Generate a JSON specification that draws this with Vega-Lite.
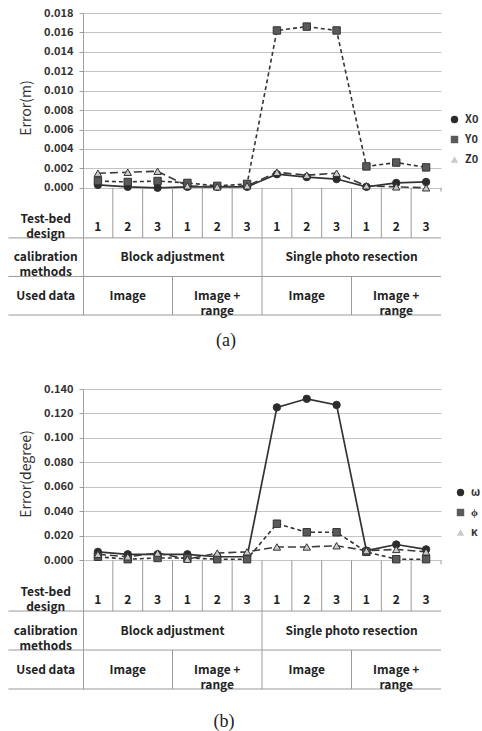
{
  "$schema": "https://vega.github.io/schema/vega-lite/v6.json",
  "padding": {"top": 7, "left": 7, "right": 45, "bottom": 0},
  "background": "white",
  "spacing": 33,
  "config": {"view": {"stroke": null}, "font": "Noto Sans CJK KR"},
  "resolve": {"scale": {"shape": "independent", "fill": "independent", "y": "independent"}},
  "datasets": {
    "a": [
      {"series": "X0", "pos": 1, "value": 0.0003}, {"series": "X0", "pos": 2, "value": 0.0001}, {"series": "X0", "pos": 3, "value": 0.0000},
      {"series": "X0", "pos": 4, "value": 0.0001}, {"series": "X0", "pos": 5, "value": 0.0001}, {"series": "X0", "pos": 6, "value": 0.0001},
      {"series": "X0", "pos": 7, "value": 0.0014}, {"series": "X0", "pos": 8, "value": 0.0011}, {"series": "X0", "pos": 9, "value": 0.0009},
      {"series": "X0", "pos": 10, "value": 0.0001}, {"series": "X0", "pos": 11, "value": 0.0005}, {"series": "X0", "pos": 12, "value": 0.0006},
      {"series": "Y0", "pos": 1, "value": 0.0007}, {"series": "Y0", "pos": 2, "value": 0.0006}, {"series": "Y0", "pos": 3, "value": 0.0007},
      {"series": "Y0", "pos": 4, "value": 0.0005}, {"series": "Y0", "pos": 5, "value": 0.0002}, {"series": "Y0", "pos": 6, "value": 0.0004},
      {"series": "Y0", "pos": 7, "value": 0.0162}, {"series": "Y0", "pos": 8, "value": 0.0166}, {"series": "Y0", "pos": 9, "value": 0.0162},
      {"series": "Y0", "pos": 10, "value": 0.0022}, {"series": "Y0", "pos": 11, "value": 0.0026}, {"series": "Y0", "pos": 12, "value": 0.0021},
      {"series": "Z0", "pos": 1, "value": 0.0015}, {"series": "Z0", "pos": 2, "value": 0.0016}, {"series": "Z0", "pos": 3, "value": 0.0017},
      {"series": "Z0", "pos": 4, "value": 0.0002}, {"series": "Z0", "pos": 5, "value": 0.0001}, {"series": "Z0", "pos": 6, "value": 0.0002},
      {"series": "Z0", "pos": 7, "value": 0.0016}, {"series": "Z0", "pos": 8, "value": 0.0013}, {"series": "Z0", "pos": 9, "value": 0.0015},
      {"series": "Z0", "pos": 10, "value": 0.0002}, {"series": "Z0", "pos": 11, "value": 0.0001}, {"series": "Z0", "pos": 12, "value": 0.0000}
    ],
    "b": [
      {"series": "ω", "pos": 1, "value": 0.007}, {"series": "ω", "pos": 2, "value": 0.005}, {"series": "ω", "pos": 3, "value": 0.005},
      {"series": "ω", "pos": 4, "value": 0.005}, {"series": "ω", "pos": 5, "value": 0.003}, {"series": "ω", "pos": 6, "value": 0.003},
      {"series": "ω", "pos": 7, "value": 0.125}, {"series": "ω", "pos": 8, "value": 0.132}, {"series": "ω", "pos": 9, "value": 0.127},
      {"series": "ω", "pos": 10, "value": 0.008}, {"series": "ω", "pos": 11, "value": 0.013}, {"series": "ω", "pos": 12, "value": 0.009},
      {"series": "ϕ", "pos": 1, "value": 0.003}, {"series": "ϕ", "pos": 2, "value": 0.001}, {"series": "ϕ", "pos": 3, "value": 0.002},
      {"series": "ϕ", "pos": 4, "value": 0.002}, {"series": "ϕ", "pos": 5, "value": 0.001}, {"series": "ϕ", "pos": 6, "value": 0.001},
      {"series": "ϕ", "pos": 7, "value": 0.030}, {"series": "ϕ", "pos": 8, "value": 0.023}, {"series": "ϕ", "pos": 9, "value": 0.023},
      {"series": "ϕ", "pos": 10, "value": 0.007}, {"series": "ϕ", "pos": 11, "value": 0.001}, {"series": "ϕ", "pos": 12, "value": 0.001},
      {"series": "κ", "pos": 1, "value": 0.005}, {"series": "κ", "pos": 2, "value": 0.003}, {"series": "κ", "pos": 3, "value": 0.006},
      {"series": "κ", "pos": 4, "value": 0.001}, {"series": "κ", "pos": 5, "value": 0.006}, {"series": "κ", "pos": 6, "value": 0.007},
      {"series": "κ", "pos": 7, "value": 0.011}, {"series": "κ", "pos": 8, "value": 0.011}, {"series": "κ", "pos": 9, "value": 0.012},
      {"series": "κ", "pos": 10, "value": 0.008}, {"series": "κ", "pos": 11, "value": 0.009}, {"series": "κ", "pos": 12, "value": 0.007}
    ],
    "rules": [
      {"x1": -2, "x2": 12.5, "y1": -1.3, "y2": -1.3},
      {"x1": -2, "x2": 12.5, "y1": -2.3, "y2": -2.3},
      {"x1": -2, "x2": 12.5, "y1": -3.3, "y2": -3.3},
      {"x1": 1.5, "x2": 1.5, "y1": 0, "y2": -1.3},
      {"x1": 2.5, "x2": 2.5, "y1": 0, "y2": -1.3},
      {"x1": 3.5, "x2": 3.5, "y1": 0, "y2": -1.3},
      {"x1": 3.5, "x2": 3.5, "y1": -2.3, "y2": -3.3},
      {"x1": 4.5, "x2": 4.5, "y1": 0, "y2": -1.3},
      {"x1": 5.5, "x2": 5.5, "y1": 0, "y2": -1.3},
      {"x1": 6.5, "x2": 6.5, "y1": 0, "y2": -3.3},
      {"x1": 7.5, "x2": 7.5, "y1": 0, "y2": -1.3},
      {"x1": 8.5, "x2": 8.5, "y1": 0, "y2": -1.3},
      {"x1": 9.5, "x2": 9.5, "y1": 0, "y2": -1.3},
      {"x1": 9.5, "x2": 9.5, "y1": -2.3, "y2": -3.3},
      {"x1": 10.5, "x2": 10.5, "y1": 0, "y2": -1.3},
      {"x1": 11.5, "x2": 11.5, "y1": 0, "y2": -1.3},
      {"x1": 12.5, "x2": 12.5, "y1": 0, "y2": -0.1}
    ],
    "cells": [
      {"label": "Test-bed\ndesign", "cx": -0.75, "cy": -0.82},
      {"label": "calibration\nmethods", "cx": -0.75, "cy": -1.8},
      {"label": "Used data", "cx": -0.75, "cy": -2.8},
      {"label": "1", "cx": 1, "cy": -1.01}, {"label": "2", "cx": 2, "cy": -1.01}, {"label": "3", "cx": 3, "cy": -1.01},
      {"label": "1", "cx": 4, "cy": -1.01}, {"label": "2", "cx": 5, "cy": -1.01}, {"label": "3", "cx": 6, "cy": -1.01},
      {"label": "1", "cx": 7, "cy": -1.01}, {"label": "2", "cx": 8, "cy": -1.01}, {"label": "3", "cx": 9, "cy": -1.01},
      {"label": "1", "cx": 10, "cy": -1.01}, {"label": "2", "cx": 11, "cy": -1.01}, {"label": "3", "cx": 12, "cy": -1.01},
      {"label": "Block adjustment", "cx": 3.5, "cy": -1.8},
      {"label": "Single photo resection", "cx": 9.5, "cy": -1.8},
      {"label": "Image", "cx": 2, "cy": -2.8},
      {"label": "Image +\nrange", "cx": 5, "cy": -2.8},
      {"label": "Image", "cx": 8, "cy": -2.8},
      {"label": "Image +\nrange", "cx": 11, "cy": -2.8}
    ]
  },
  "vconcat": [
    {
      "width": 358,
      "height": 302,
      "title": {"text": "(a)", "orient": "bottom", "font": "Liberation Serif", "fontSize": 18, "fontWeight": "normal", "color": "#222", "offset": 15, "frame": "group", "dx": -36},
      "resolve": {"scale": {"y": "independent"}},
      "layer": [
        {
          "data": {"name": "a"},
          "encoding": {
            "x": {"field": "pos", "type": "quantitative", "scale": {"domain": [0.5, 12.5], "nice": false, "zero": false}, "axis": null},
            "y": {"field": "value", "type": "quantitative", "scale": {"domain": [-0.0131, 0.018], "nice": false, "zero": false},
              "axis": {"values": [0, 0.002, 0.004, 0.006, 0.008, 0.01, 0.012, 0.014, 0.016, 0.018], "tickCount": 30, "format": ".3f", "labelOverlap": false, "labelBound": false, "grid": true, "gridColor": "#c4c4c4", "gridWidth": 1, "domainColor": "#a0a0a0", "tickColor": "#a0a0a0", "tickSize": 4, "labelFont": "Noto Sans CJK KR", "labelFontSize": 11, "labelFontWeight": "bold", "labelColor": "#333", "labelPadding": 6, "title": "Error(m)", "titleFont": "Noto Sans CJK KR", "titleFontSize": 14, "titleFontWeight": "normal", "titleColor": "#333", "titleY": 94.5, "titlePadding": 10}}
          },
          "layer": [
            {"transform": [{"filter": "datum.series === 'X0'"}], "mark": {"type": "line", "stroke": "#333", "strokeWidth": 1.7}},
            {"transform": [{"filter": "datum.series === 'Y0'"}], "mark": {"type": "line", "stroke": "#333", "strokeWidth": 1.6, "strokeDash": [4, 3]}},
            {"transform": [{"filter": "datum.series === 'Z0'"}], "mark": {"type": "line", "stroke": "#3a3a3a", "strokeWidth": 1.6, "strokeDash": [8, 4]}},
            {
              "mark": {"type": "point", "filled": true, "size": 55, "stroke": "#333", "strokeWidth": 1, "opacity": 1},
              "encoding": {
                "shape": {"field": "series", "type": "nominal", "scale": {"domain": ["X0", "Y0", "Z0"], "range": ["circle", "square", "triangle-up"]},
                  "legend": {"title": null, "orient": "none", "legendX": 366, "legendY": 101, "labelFont": "Noto Sans CJK KR", "labelFontSize": 11, "labelFontWeight": "bold", "labelColor": "#333", "symbolSize": 55, "symbolStrokeColor": "#333", "symbolStrokeWidth": 1, "rowPadding": 7, "labelOffset": 5}},
                "fill": {"field": "series", "type": "nominal", "scale": {"domain": ["X0", "Y0", "Z0"], "range": ["#2b2b2b", "#5a5a5a", "#cacaca"]},
                  "legend": {"title": null, "orient": "none", "legendX": 366, "legendY": 101, "labelFont": "Noto Sans CJK KR", "labelFontSize": 11, "labelFontWeight": "bold", "labelColor": "#333", "symbolSize": 55, "symbolStrokeColor": "#333", "symbolStrokeWidth": 1, "rowPadding": 7, "labelOffset": 5}}
              }
            }
          ]
        },
        {
          "layer": [
            {
              "data": {"name": "rules"},
              "mark": {"type": "rule", "stroke": "#9a9a9a", "strokeWidth": 1},
              "encoding": {
                "x": {"field": "x1", "type": "quantitative", "scale": {"domain": [0.5, 12.5], "nice": false, "zero": false}, "axis": null},
                "x2": {"field": "x2"},
                "y": {"field": "y1", "type": "quantitative", "scale": {"domain": [-3.3, 4.535], "nice": false, "zero": false}, "axis": null},
                "y2": {"field": "y2"}
              }
            },
            {
              "data": {"name": "cells"},
              "mark": {"type": "text", "font": "Noto Sans CJK KR", "fontSize": 12, "fontWeight": "bold", "color": "#222", "lineBreak": "\n", "lineHeight": 15, "align": "center", "baseline": "middle"},
              "encoding": {
                "x": {"field": "cx", "type": "quantitative", "scale": {"domain": [0.5, 12.5], "nice": false, "zero": false}, "axis": null},
                "y": {"field": "cy", "type": "quantitative", "scale": {"domain": [-3.3, 4.535], "nice": false, "zero": false}, "axis": null},
                "text": {"field": "label", "type": "nominal"}
              }
            }
          ]
        }
      ]
    },
    {
      "width": 358,
      "height": 300,
      "title": {"text": "(b)", "orient": "bottom", "font": "Liberation Serif", "fontSize": 18, "fontWeight": "normal", "color": "#222", "offset": 22, "frame": "group", "dx": -38},
      "resolve": {"scale": {"y": "independent"}},
      "layer": [
        {
          "data": {"name": "b"},
          "encoding": {
            "x": {"field": "pos", "type": "quantitative", "scale": {"domain": [0.5, 12.5], "nice": false, "zero": false}, "axis": null},
            "y": {"field": "value", "type": "quantitative", "scale": {"domain": [-0.105, 0.14], "nice": false, "zero": false},
              "axis": {"values": [0, 0.02, 0.04, 0.06, 0.08, 0.1, 0.12, 0.14], "tickCount": 30, "format": ".3f", "labelOverlap": false, "labelBound": false, "grid": true, "gridColor": "#c4c4c4", "gridWidth": 1, "domainColor": "#a0a0a0", "tickColor": "#a0a0a0", "tickSize": 4, "labelFont": "Noto Sans CJK KR", "labelFontSize": 11, "labelFontWeight": "bold", "labelColor": "#333", "labelPadding": 6, "title": "Error(degree)", "titleFont": "Noto Sans CJK KR", "titleFontSize": 14, "titleFontWeight": "normal", "titleColor": "#333", "titleY": 84.5, "titlePadding": 10}}
          },
          "layer": [
            {"transform": [{"filter": "datum.series === 'ω'"}], "mark": {"type": "line", "stroke": "#333", "strokeWidth": 1.7}},
            {"transform": [{"filter": "datum.series === 'ϕ'"}], "mark": {"type": "line", "stroke": "#333", "strokeWidth": 1.6, "strokeDash": [4, 3]}},
            {"transform": [{"filter": "datum.series === 'κ'"}], "mark": {"type": "line", "stroke": "#3a3a3a", "strokeWidth": 1.6, "strokeDash": [8, 4]}},
            {
              "mark": {"type": "point", "filled": true, "size": 55, "stroke": "#333", "strokeWidth": 1, "opacity": 1},
              "encoding": {
                "shape": {"field": "series", "type": "nominal", "scale": {"domain": ["ω", "ϕ", "κ"], "range": ["circle", "square", "triangle-up"]},
                  "legend": {"title": null, "orient": "none", "legendX": 372, "legendY": 98, "labelFont": "Noto Sans CJK KR", "labelFontSize": 11, "labelFontWeight": "bold", "labelColor": "#333", "symbolSize": 55, "symbolStrokeColor": "#333", "symbolStrokeWidth": 1, "rowPadding": 7, "labelOffset": 5}},
                "fill": {"field": "series", "type": "nominal", "scale": {"domain": ["ω", "ϕ", "κ"], "range": ["#2b2b2b", "#5a5a5a", "#cacaca"]},
                  "legend": {"title": null, "orient": "none", "legendX": 372, "legendY": 98, "labelFont": "Noto Sans CJK KR", "labelFontSize": 11, "labelFontWeight": "bold", "labelColor": "#333", "symbolSize": 55, "symbolStrokeColor": "#333", "symbolStrokeWidth": 1, "rowPadding": 7, "labelOffset": 5}}
              }
            }
          ]
        },
        {
          "layer": [
            {
              "data": {"name": "rules"},
              "mark": {"type": "rule", "stroke": "#9a9a9a", "strokeWidth": 1},
              "encoding": {
                "x": {"field": "x1", "type": "quantitative", "scale": {"domain": [0.5, 12.5], "nice": false, "zero": false}, "axis": null},
                "x2": {"field": "x2"},
                "y": {"field": "y1", "type": "quantitative", "scale": {"domain": [-3.3, 4.398], "nice": false, "zero": false}, "axis": null},
                "y2": {"field": "y2"}
              }
            },
            {
              "data": {"name": "cells"},
              "mark": {"type": "text", "font": "Noto Sans CJK KR", "fontSize": 12, "fontWeight": "bold", "color": "#222", "lineBreak": "\n", "lineHeight": 15, "align": "center", "baseline": "middle"},
              "encoding": {
                "x": {"field": "cx", "type": "quantitative", "scale": {"domain": [0.5, 12.5], "nice": false, "zero": false}, "axis": null},
                "y": {"field": "cy", "type": "quantitative", "scale": {"domain": [-3.3, 4.398], "nice": false, "zero": false}, "axis": null},
                "text": {"field": "label", "type": "nominal"}
              }
            }
          ]
        }
      ]
    }
  ]
}
